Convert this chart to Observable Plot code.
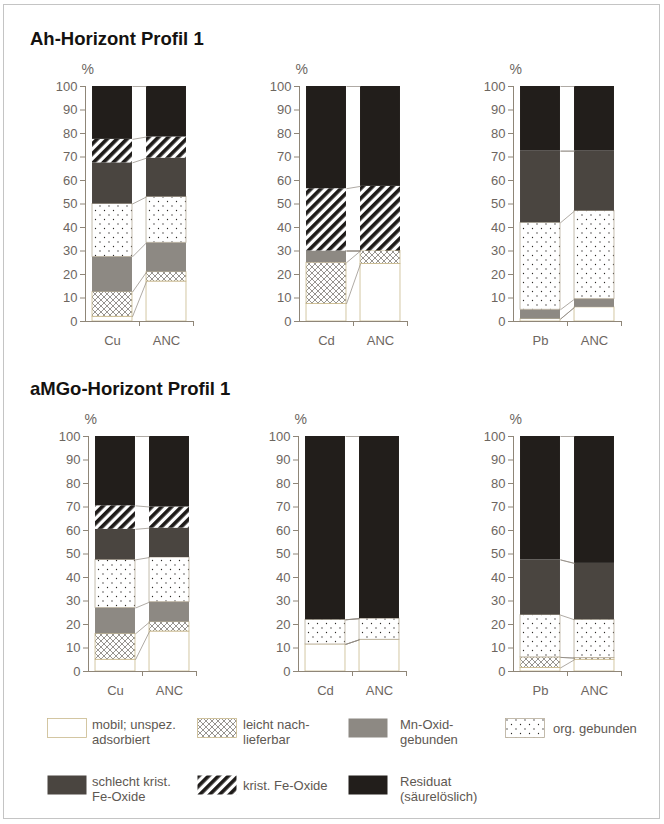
<!DOCTYPE html>
<html><head><meta charset="utf-8">
<script src="https://cdn.jsdelivr.net/npm/d3@7"></script>
<script src="https://cdn.jsdelivr.net/npm/@observablehq/plot@0.6"></script>
<style>
body{margin:0;background:#fff;font-family:"Liberation Sans",Arial,sans-serif;}
#page{position:relative;width:664px;height:824px;overflow:hidden;}
#frame{position:absolute;left:3px;top:4px;width:655px;height:813px;border:1px solid #c4c4c4;}
.title{position:absolute;font-weight:bold;font-size:18.5px;color:#141210;white-space:nowrap;}
.panel{position:absolute;}
.sw{position:absolute;width:40px;height:20px;}
.lt{position:absolute;font-size:13px;line-height:15px;color:#5e5852;white-space:nowrap;}
</style></head><body>
<svg width="0" height="0" style="position:absolute"><defs>
<pattern id="xhatch" width="6" height="6" patternUnits="userSpaceOnUse">
<rect width="6" height="6" fill="#fff"/>
<path d="M0,0L6,6M6,0L0,6" stroke="#6a6560" stroke-width="0.7"/>
</pattern>
<pattern id="stripes" width="7" height="7" patternUnits="userSpaceOnUse" patternTransform="rotate(45)">
<rect width="7" height="7" fill="#fff"/><rect width="3.7" height="7" fill="#1e1b19"/>
</pattern>
<pattern id="dots" width="9" height="9" patternUnits="userSpaceOnUse">
<rect width="9" height="9" fill="#fff"/>
<circle cx="2" cy="2" r="0.65" fill="#2a2725"/><circle cx="6.5" cy="6.5" r="0.65" fill="#2a2725"/>
</pattern>
</defs></svg>
<div id="page"><div id="frame"></div></div>
<script>
// Fractions (sequential extraction), bottom to top
const fractions = ["mobil; unspez. adsorbiert", "leicht nachlieferbar", "Mn-Oxid-gebunden", "org. gebunden",
  "schlecht krist. Fe-Oxide", "krist. Fe-Oxide", "Residuat (säurelöslich)"];
const horizonTitles = ["Ah-Horizont Profil 1", "aMGo-Horizont Profil 1"];
const elements = ["Cu", "Cd", "Pb"];
const compareLabel = "ANC";
const yTicks = [0, 10, 20, 30, 40, 50, 60, 70, 80, 90, 100];

// Shares in % (order as fractions)
const ahCu     = [2, 10.5, 15, 22.5, 17.5, 10, 22.5];
const ahCuANC  = [17, 4, 12.5, 19.5, 16.5, 9, 21.5];
const ahCd     = [7.5, 17.5, 5, 0, 0, 26.5, 43.5];
const ahCdANC  = [24.5, 5.5, 0, 0, 0, 27.5, 42.5];
const ahPb     = [1, 0, 4, 37, 30.5, 0, 27.5];
const ahPbANC  = [6, 0, 3.5, 37.5, 25.5, 0, 27.5];
const agCu     = [5, 11, 11, 20.5, 13, 10, 29.5];
const agCuANC  = [17, 4, 8.5, 19, 12.5, 9, 30];
const agCd     = [11.5, 0, 0, 10.5, 0, 0, 78];
const agCdANC  = [13.5, 0, 0, 9, 0, 0, 77.5];
const agPb     = [1.5, 4.5, 0, 18, 23.5, 0, 52.5];
const agPbANC  = [5, 0.7, 0, 16.3, 24, 0, 54];

const rows = [
  [[ahCu, ahCuANC], [ahCd, ahCdANC], [ahPb, ahPbANC]],
  [[agCu, agCuANC], [agCd, agCdANC], [agPb, agPbANC]]
];

const fills = ["#ffffff", "url(#xhatch)", "#8d8983", "url(#dots)", "#4a4540", "url(#stripes)", "#221e1b"];
const outline = "#c9b98c";
const strokes = [outline, outline, "none", "#b5ab98", "none", "none", "none"];
const axisColor = "#8f8678";
const textColor = "#6d665f";

const page = document.getElementById("page");

function panel(v0, v1, labels) {
  const segs = [];
  [v0, v1].forEach((v, b) => {
    let c = 0;
    v.forEach((val, k) => { segs.push({b, k, y1: c, y2: c + val}); c += val; });
  });
  const links = fractions.map((f, k) => ({ya: d3.sum(v0.slice(0, k + 1)), yb: d3.sum(v1.slice(0, k + 1))}));
  return Plot.plot({
    width: 170, height: 293, marginLeft: 50, marginRight: 12, marginTop: 26, marginBottom: 32,
    x: {domain: [0, 2]}, y: {domain: [0, 100]},
    style: {fontFamily: "'Liberation Sans', Arial, sans-serif", fontSize: "13px", color: textColor, background: "transparent", overflow: "visible"},
    marks: [
      ...fills.map((f, k) => Plot.rectY(segs.filter(s => s.k === k && s.y2 > s.y1), {
        x1: s => s.b + 0.13, x2: s => s.b + 0.87, y1: "y1", y2: "y2",
        fill: f, stroke: strokes[k], strokeWidth: 0.8
      })),
      Plot.link(links, {x1: () => 0.87, x2: () => 1.13, y1: "ya", y2: "yb", stroke: "#8c857c", strokeWidth: 0.7}),
      Plot.ruleX([0], {y1: 0, y2: 100, stroke: axisColor}),
      Plot.ruleY([0], {x1: 0, x2: 2, stroke: axisColor}),
      Plot.axisY({ticks: yTicks, tickSize: 5, tickPadding: 3, stroke: axisColor, fill: textColor, fontSize: 13, label: null}),
      Plot.axisX({ticks: [0.5, 1.5], tickSize: 0, tickPadding: 14, tickFormat: d => labels[Math.floor(d)], fill: textColor, fontSize: 13, label: null}),
      Plot.axisX({ticks: [1, 2], tickSize: 5, tickFormat: () => "", stroke: axisColor, label: null}),
      Plot.text(["%"], {x: () => 0.04, y: () => 100, text: d => d, dy: -17, fill: textColor, fontSize: 14})
    ]
  });
}

const axisXs = [[85, 299, 513], [88, 298, 513]];
const y100s = [86, 436];
const titleTops = [28, 378];

rows.forEach((row, r) => {
  const t = document.createElement("div");
  t.className = "title"; t.textContent = horizonTitles[r];
  t.style.left = "30px"; t.style.top = titleTops[r] + "px";
  page.appendChild(t);
  row.forEach(([v0, v1], c) => {
    const el = panel(v0, v1, [elements[c], compareLabel]);
    const wrap = document.createElement("div");
    wrap.className = "panel";
    wrap.style.left = (axisXs[r][c] - 50) + "px";
    wrap.style.top = (y100s[r] - 26) + "px";
    wrap.appendChild(el);
    page.appendChild(wrap);
  });
});

// Legend
const legendLines = [
  ["mobil; unspez.", "adsorbiert"], ["leicht nach-", "lieferbar"], ["Mn-Oxid-", "gebunden"], ["org. gebunden"],
  ["schlecht krist.", "Fe-Oxide"], ["krist. Fe-Oxide"], ["Residuat", "(säurelöslich)"]
];
const lgSwX = [47, 197, 348, 505];
const lgTxX = [92, 243, 400, 553];
const lgRowY = [718, 775];
legendLines.forEach((lines, k) => {
  const r = k < 4 ? 0 : 1, c = k < 4 ? k : k - 4;
  const ns = "http://www.w3.org/2000/svg";
  const sw = document.createElementNS(ns, "svg");
  sw.setAttribute("class", "sw"); sw.setAttribute("width", 40); sw.setAttribute("height", 20);
  sw.style.left = lgSwX[c] + "px"; sw.style.top = lgRowY[r] + "px";
  const rect = document.createElementNS(ns, "rect");
  rect.setAttribute("x", 0.5); rect.setAttribute("y", 0.5); rect.setAttribute("width", 39); rect.setAttribute("height", 19);
  rect.setAttribute("fill", fills[k]);
  rect.setAttribute("stroke", strokes[k] === "none" ? "none" : strokes[k]);
  rect.setAttribute("stroke-width", 0.8);
  sw.appendChild(rect);
  page.appendChild(sw);
  const tx = document.createElement("div");
  tx.className = "lt";
  tx.innerHTML = lines.join("<br>");
  tx.style.left = lgTxX[c] + "px";
  tx.style.top = (lgRowY[r] + (lines.length === 1 ? 3 : -1)) + "px";
  page.appendChild(tx);
});
</script>
</body></html>
